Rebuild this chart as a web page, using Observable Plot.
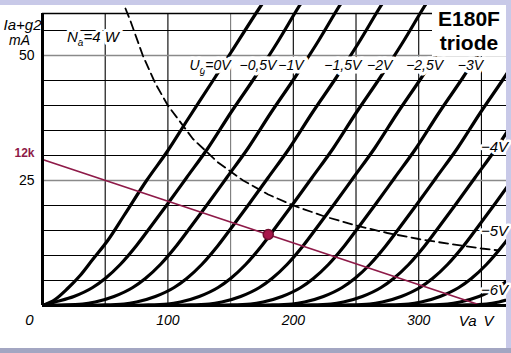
<!DOCTYPE html>
<html><head><meta charset="utf-8">
<script src="https://cdn.jsdelivr.net/npm/d3@7"></script>
<script src="https://cdn.jsdelivr.net/npm/@observablehq/plot@0.6"></script>
<style>
html,body{margin:0;padding:0;}
body{width:511px;height:353px;background:#c8c9e8;position:relative;overflow:hidden;font-family:"Liberation Sans",Arial,sans-serif;}
#sheet{position:absolute;left:0;top:5px;width:506px;height:343px;background:#fff;}
#bottomband{position:absolute;left:0;top:348px;width:511px;height:5px;background:#a3a6c2;}
#chart{position:absolute;left:0;top:5px;}
#title{position:absolute;left:432px;top:5px;width:74px;height:51px;background:#fff;font:bold 21px "Liberation Sans",Arial,sans-serif;text-align:center;line-height:24px;padding-top:2px;box-sizing:border-box;color:#000;}
</style></head><body>
<div id="sheet"></div><div id="bottomband"></div><div id="chart"></div>
<div id="title">E180F<br>triode</div>
<script>
// ---- data ----
const ugValues = [0, -0.5, -1, -1.5, -2, -2.5, -3, -3.5, -4, -4.5, -5, -5.5, -6];
// anode curves: [Va (V), Ia+g2 (mA)]
const ug0   = [[0,0],[10,1.2],[20,3.4],[30,6],[40,9.2],[52,13],[65,18],[83,25],[100,31],[114,36.5],[136,45],[150,50.5],[173,59.5],[185,64]];
const ugm05 = [[0,0],[10,0.7],[25,1.8],[40,3.6],[50,5.4],[62,8.2],[75,12],[87,16],[100,20.4],[115,25.6],[132,31.5],[150,38.5],[169,45.5],[187,52.5],[205,60],[220,65.8]];
const ugm1  = [[0,0],[12,0.1],[32,0.3],[42,0.7],[57,1.8],[72,3.6],[82,5.4],[94,8.2],[107,12],[119,16],[132,20.4],[147,25.6],[164,31.5],[182,38.5],[201,45.5],[219,52.5],[237,60],[252,65.8]];
const ugm15 = [[0,0],[25,0],[45,0.1],[65,0.3],[75,0.7],[90,1.8],[105,3.6],[115,5.4],[127,8.2],[140,12],[152,16],[165,20.4],[180,25.6],[197,31.5],[215,38.5],[234,45.5],[252,52.5],[270,60],[285,65.8]];
const ugm2  = [[0,0],[60,0],[80,0.1],[100,0.3],[110,0.7],[125,1.8],[140,3.6],[150,5.4],[162,8.2],[175,12],[187,16],[200,20.4],[215,25.6],[232,31.5],[250,38.5],[269,45.5],[287,52.5],[305,60],[320,65.8]];
const ugm25 = [[0,0],[93,0],[113,0.1],[133,0.3],[143,0.7],[158,1.8],[173,3.6],[183,5.4],[195,8.2],[208,12],[220,16],[233,20.4],[248,25.6],[265,31.5],[283,38.5],[302,45.5],[320,52.5],[338,60],[353,65.8]];
const ugm3  = [[0,0],[126,0],[146,0.1],[166,0.3],[176,0.7],[191,1.8],[206,3.6],[216,5.4],[228,8.2],[241,12],[253,16],[266,20.4],[281,25.6],[298,31.5],[316,38.5],[335,45.5],[353,52.5],[371,60],[386,65.8]];
const ugm35 = [[0,0],[159,0],[179,0.1],[199,0.3],[209,0.7],[224,1.8],[239,3.6],[249,5.4],[261,8.2],[274,12],[286,16],[299,20.4],[314,25.6],[331,31.5],[349,38.5],[368,45.5],[386,52.5]];
const ugm4  = [[0,0],[190,0],[210,0.1],[230,0.3],[240,0.7],[255,1.8],[270,3.6],[280,5.4],[292,8.2],[305,12],[317,16],[330,20.4],[345,25.6],[362,31.5],[380,38.5]];
const ugm45 = [[0,0],[221,0],[241,0.1],[261,0.3],[271,0.7],[286,1.8],[301,3.6],[311,5.4],[323,8.2],[336,12],[348,16],[361,20.4],[376,25.6]];
const ugm5  = [[0,0],[252,0],[272,0.1],[292,0.3],[302,0.7],[317,1.8],[332,3.6],[342,5.4],[354,8.2],[367,12],[379,16]];
const ugm55 = [[0,0],[283,0],[303,0.1],[323,0.3],[333,0.7],[348,1.8],[363,3.6],[373,5.4]];
const ugm6  = [[0,0],[314,0],[334,0.1],[354,0.3],[364,0.7],[379,1.8]];
const curvePoints = [ug0, ugm05, ugm1, ugm15, ugm2, ugm25, ugm3, ugm35, ugm4, ugm45, ugm5, ugm55, ugm6];

// Na = 4 W dissipation hyperbola
const naVa = [62, 70, 80, 90, 100, 120, 140, 160, 180, 200, 225, 250, 275, 300, 325, 350, 364];
const naIa = [62, 57, 50, 44.4, 40, 33.3, 28.6, 25, 22.2, 20, 17.8, 16, 14.5, 13.3, 12.3, 11.4, 11];

// 12 kOhm load line and operating point
const loadVa = [0, 350];
const loadIa = [29.2, 0];
const opVa = [180];
const opIa = [14.2];

// grid and ticks
const xGrid = [50, 100, 150, 200, 250, 300, 350];
const yGrid = [5, 10, 15, 20, 25, 30, 35, 40, 45, 50, 55];
const xTicks = [100, 200, 300];
const yTicks = [25, 50];
const frameTop = 58.4;

// curve labels (text, Va, Ia)
const topLabels = ["Ug=0V", "−0,5V", "−1V", "−1,5V", "−2V", "−2,5V", "−3V"];
const topLabelVa = [133.6, 171.8, 198.1, 239.5, 268.9, 304.7, 341.3];
const topLabelIa = [48, 48, 48, 48, 48, 48, 48];
const sideLabels = ["−4V", "−5V", "−6V"];
const sideLabelVa = [360.4, 360.4, 360.4];
const sideLabelIa = [31.6, 14.8, 3];

// ---- build tables ----
const curveRows = curvePoints.flatMap((pts, i) => pts.map(([va, ia]) => ({ug: ugValues[i], va, ia})));
const naRows = naVa.map((v, i) => ({va: v, ia: naIa[i]}));
const loadRows = loadVa.map((v, i) => ({va: v, ia: loadIa[i]}));
const opRows = opVa.map((v, i) => ({va: v, ia: opIa[i]}));
const topRows = topLabels.map((t, i) => ({t, va: topLabelVa[i], ia: topLabelIa[i]}));
const sideRows = sideLabels.map((t, i) => ({t, va: sideLabelVa[i], ia: sideLabelIa[i]}));

const red = "#8e1a48";
const font = "Liberation Sans, Arial, sans-serif";

const chart = Plot.plot({
  width: 506, height: 343,
  marginLeft: 42, marginRight: 0, marginTop: 0, marginBottom: 43,
  x: {domain: [0, 370], axis: null},
  y: {domain: [0, 60], axis: null},
  style: {background: "transparent", overflow: "visible", fontFamily: font},
  marks: [
    Plot.ruleX(xGrid, {y1: 0, y2: frameTop, stroke: d => d === 150 ? "#7a7a7a" : "#000", strokeWidth: 1.1}),
    Plot.ruleY(yGrid, {x1: 0, x2: 370, stroke: d => d % 25 === 0 ? "#8a8a8a" : "#000", strokeWidth: d => d % 25 === 0 ? 1.4 : 1.1}),
    Plot.ruleY([frameTop], {x1: 0, x2: 370, stroke: "#000", strokeWidth: 1.3}),
    Plot.line(naRows, {x: "va", y: "ia", stroke: "#000", strokeWidth: 1.8, strokeDasharray: "9,5", clip: true}),
    Plot.line(curveRows, {x: "va", y: "ia", z: "ug", stroke: "#000", strokeWidth: 3.2, curve: "monotone-x", clip: true}),
    Plot.line(loadRows, {x: "va", y: "ia", stroke: red, strokeWidth: 1.8}),
    Plot.dot(opRows, {x: "va", y: "ia", r: 5, fill: "#a8154a", stroke: "#6d0e2e", strokeWidth: 1.5}),
    Plot.ruleX([0], {y1: 0, y2: frameTop, stroke: "#000", strokeWidth: 3}),
    Plot.ruleY([0], {x1: 0, x2: 370, stroke: "#000", strokeWidth: 3}),
    Plot.text(topRows, {x: "va", y: "ia", text: "t", fontSize: 14, fontStyle: "italic", fill: "#000", stroke: "#fff", strokeWidth: 7, paintOrder: "stroke"}),
    Plot.text(sideRows, {x: "va", y: "ia", text: "t", fontSize: 15, fontStyle: "italic", fill: "#000", stroke: "#fff", strokeWidth: 5, paintOrder: "stroke"}),
    Plot.text(["Na=4 W"], {x: 40.2, y: 53.7, text: d => d, fontSize: 15, fontStyle: "italic", fill: "#000", stroke: "#fff", strokeWidth: 6, paintOrder: "stroke"}),
    Plot.axisX(xTicks, {label: null, tickSize: 0, tickPadding: 10, fontSize: 14, fontStyle: "italic", fill: "#000"}),
    Plot.axisY(yTicks, {label: null, tickSize: 0, tickPadding: 8, fontSize: 14, fill: "#000"}),
    Plot.text(["0"], {x: 0, y: -3, dx: -13, text: d => d, fontSize: 15, fontStyle: "italic", fill: "#000"}),
    Plot.text(["Va"], {x: 339, y: -3.2, text: d => d, fontSize: 15, fontStyle: "italic", fill: "#000"}),
    Plot.text(["V"], {x: 355.6, y: -3.2, text: d => d, fontSize: 15, fontStyle: "italic", fill: "#000"}),
    Plot.text(["Ia+g2"], {x: 0, y: 56, dx: -1, text: d => d, textAnchor: "end", fontSize: 15, fontStyle: "italic", fill: "#000"}),
    Plot.text(["mA"], {x: 0, y: 53, dx: -23, text: d => d, fontSize: 14, fontStyle: "italic", fill: "#000"}),
    Plot.text(["12k"], {x: 0, y: 30.5, dx: -18, text: d => d, fontSize: 12, fontWeight: "bold", fill: red})
  ]
});
document.getElementById("chart").appendChild(chart);

// subscripts for U_g and N_a
function subscript(whole, head, sub, tail) {
  chart.querySelectorAll("text").forEach(t => {
    if (t.textContent === whole) {
      t.textContent = "";
      const ns = "http://www.w3.org/2000/svg";
      const a = document.createElementNS(ns, "tspan"); a.textContent = head;
      const b = document.createElementNS(ns, "tspan"); b.textContent = sub; b.setAttribute("font-size", "10"); b.setAttribute("dy", "4");
      const c = document.createElementNS(ns, "tspan"); c.textContent = tail; c.setAttribute("dy", "-4");
      t.append(a, b, c);
    }
  });
}
subscript("Ug=0V", "U", "g", "=0V");
subscript("Na=4 W", "N", "a", "=4 W");
</script></body></html>
